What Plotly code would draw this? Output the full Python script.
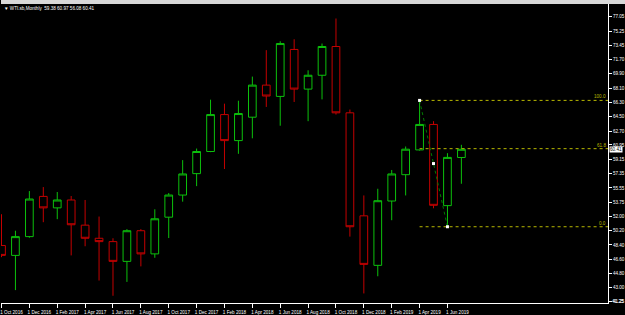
import plotly.graph_objects as go

# Monthly WTI.sb candles, Oct 2016 .. Jul 2019 (index 0..33)
months = ["Oct 2016", "Nov 2016", "Dec 2016", "Jan 2017", "Feb 2017", "Mar 2017", "Apr 2017",
          "May 2017", "Jun 2017", "Jul 2017", "Aug 2017", "Sep 2017", "Oct 2017", "Nov 2017",
          "Dec 2017", "Jan 2018", "Feb 2018", "Mar 2018", "Apr 2018", "May 2018", "Jun 2018",
          "Jul 2018", "Aug 2018", "Sep 2018", "Oct 2018", "Nov 2018", "Dec 2018", "Jan 2019",
          "Feb 2019", "Mar 2019", "Apr 2019", "May 2019", "Jun 2019", "Jul 2019"]
opens = [48.32, 47.08, 49.44, 54.49, 53.05, 54.04, 50.88, 49.23, 48.81, 46.33, 50.18, 47.27,
         51.88, 54.66, 57.35, 60.13, 64.77, 61.50, 64.44, 68.47, 67.05, 72.95, 67.97, 69.71,
         73.32, 64.99, 52.05, 45.83, 53.91, 57.22, 60.33, 63.53, 53.33, 59.38]
highs = [52.25, 50.18, 55.16, 55.66, 55.04, 54.54, 54.04, 51.96, 49.23, 50.38, 50.38, 52.87,
         54.91, 59.05, 60.50, 66.64, 66.14, 66.51, 69.54, 72.86, 73.98, 74.23, 70.33, 73.69,
         76.84, 65.40, 54.61, 55.45, 57.81, 60.76, 66.55, 63.94, 59.92, 60.97]
lows = [46.86, 42.72, 49.30, 51.25, 51.63, 47.08, 48.23, 43.92, 42.01, 43.75, 45.70, 46.78,
        49.26, 53.83, 55.78, 60.05, 57.93, 59.84, 61.79, 65.73, 63.37, 66.35, 63.94, 66.68,
        64.77, 49.44, 42.30, 44.46, 51.50, 54.61, 60.25, 53.00, 50.68, 56.08]
closes = [47.08, 49.44, 54.16, 53.05, 54.04, 50.93, 49.23, 48.81, 46.33, 50.18, 47.27, 51.68,
          54.66, 57.31, 60.13, 64.77, 61.50, 64.90, 68.47, 67.10, 73.69, 67.97, 69.71, 73.32,
          64.99, 50.68, 45.95, 53.95, 57.31, 60.42, 63.53, 53.37, 59.39, 60.41]

x_tick_idx = list(range(0, 34, 2))
x_tick_text = ["1 " + months[i] for i in x_tick_idx]

y_tick_vals = [77.05, 75.25, 73.45, 71.70, 69.90, 68.10, 66.30, 64.50, 62.70, 60.95, 59.15,
               57.35, 55.55, 53.75, 52.00, 50.20, 48.40, 46.60, 44.80, 43.00, 41.25]
y_tick_text = ["%.2f" % v for v in y_tick_vals]

fib_levels = [100.0, 61.8, 0.0]
fib_labels = ["100.0", "61.8", "0.0"]
fib_hi_idx, fib_lo_idx = 30, 32

title_text = "WTI.sb,Monthly  59.38 60.97 56.08 60.41"
last_price = closes[-1]

X_RANGE = [-0.036, 43.52]
Y_RANGE = [41.10, 78.66]
FONT = "Liberation Sans"
FS = 4.6
GREEN = "#0cc00c"
RED = "#c40000"
FIB = "#b8b800"

idx = list(range(len(months)))
fig = go.Figure()
fig.add_trace(go.Candlestick(
    x=idx, open=opens, high=highs, low=lows, close=closes,
    increasing=dict(line=dict(color=GREEN, width=1), fillcolor="black"),
    decreasing=dict(line=dict(color=RED, width=1), fillcolor="black"),
    whiskerwidth=0, hoverinfo="skip", showlegend=False))

fib_hi = highs[fib_hi_idx]
fib_lo = lows[fib_lo_idx]
for lvl, lab in zip(fib_levels, fib_labels):
    yv = fib_lo + (fib_hi - fib_lo) * lvl / 100.0
    fig.add_trace(go.Scatter(x=[fib_hi_idx, X_RANGE[1]], y=[yv, yv], mode="lines",
                             line=dict(color=FIB, width=1, dash="dot"),
                             hoverinfo="skip", showlegend=False))
    fig.add_annotation(x=1, xref="paper", y=yv, yref="y", text=lab, showarrow=False,
                       xanchor="right", yanchor="bottom", xshift=0, yshift=-1,
                       font=dict(family=FONT, size=FS, color=FIB))

# trend line between fib anchors
fig.add_trace(go.Scatter(x=[fib_hi_idx, fib_lo_idx], y=[fib_hi, fib_lo], mode="lines",
                         line=dict(color="#007a00", width=1, dash="dot"),
                         hoverinfo="skip", showlegend=False))
fig.add_trace(go.Scatter(x=[fib_hi_idx, (fib_hi_idx + fib_lo_idx) / 2, fib_lo_idx],
                         y=[fib_hi, (fib_hi + fib_lo) / 2, fib_lo], mode="markers",
                         marker=dict(color="white", size=3, symbol="square"),
                         hoverinfo="skip", showlegend=False))

fig.add_annotation(x=0, xref="paper", y=1, yref="paper", text="▼ " + title_text,
                   showarrow=False, xanchor="left", yanchor="top", xshift=1, yshift=0,
                   font=dict(family=FONT, size=FS, color="white"))
fig.add_annotation(x=1, xref="paper", y=last_price, yref="y", text="%.2f" % last_price,
                   showarrow=False, xanchor="left", xshift=1, bgcolor="white", borderpad=0,
                   font=dict(family=FONT, size=FS, color="black"))
# lowest axis label sits at the very bottom edge; Plotly drops it, so draw it explicitly
fig.add_annotation(x=1, xref="paper", y=y_tick_vals[-1], yref="y", text=y_tick_text[-1],
                   showarrow=False, xanchor="left", xshift=2,
                   font=dict(family=FONT, size=FS, color="white"))

fig.add_shape(type="rect", xref="paper", yref="paper", x0=0, x1=1.03, y0=1.0, y1=1.02,
              fillcolor="#d8d8d8", line=dict(width=0), layer="below")

fig.update_layout(
    width=625, height=315,
    margin=dict(l=0, r=17, t=4, b=9),
    paper_bgcolor="black", plot_bgcolor="black",
    boxgap=0.21,
    font=dict(family=FONT, size=FS, color="white"),
    xaxis=dict(range=X_RANGE, tickmode="array", tickvals=x_tick_idx, ticktext=x_tick_text,
               ticks="outside", ticklen=4, tickcolor="white", showgrid=False, zeroline=False,
               showline=True, linecolor="white", linewidth=1, rangeslider=dict(visible=False),
               ticklabelshift=10, ticklabelstandoff=0, ticklabeloverflow="allow",
               tickfont=dict(family=FONT, size=FS, color="white")),
    yaxis=dict(range=Y_RANGE, side="right", tickmode="array", tickvals=y_tick_vals,
               ticktext=y_tick_text, ticks="outside", ticklen=3, tickcolor="white",
               showgrid=False, zeroline=False, showline=True, linecolor="white", linewidth=1,
               ticklabeloverflow="allow",
               tickfont=dict(family=FONT, size=FS, color="white")),
)

fig.write_html("out.html")
